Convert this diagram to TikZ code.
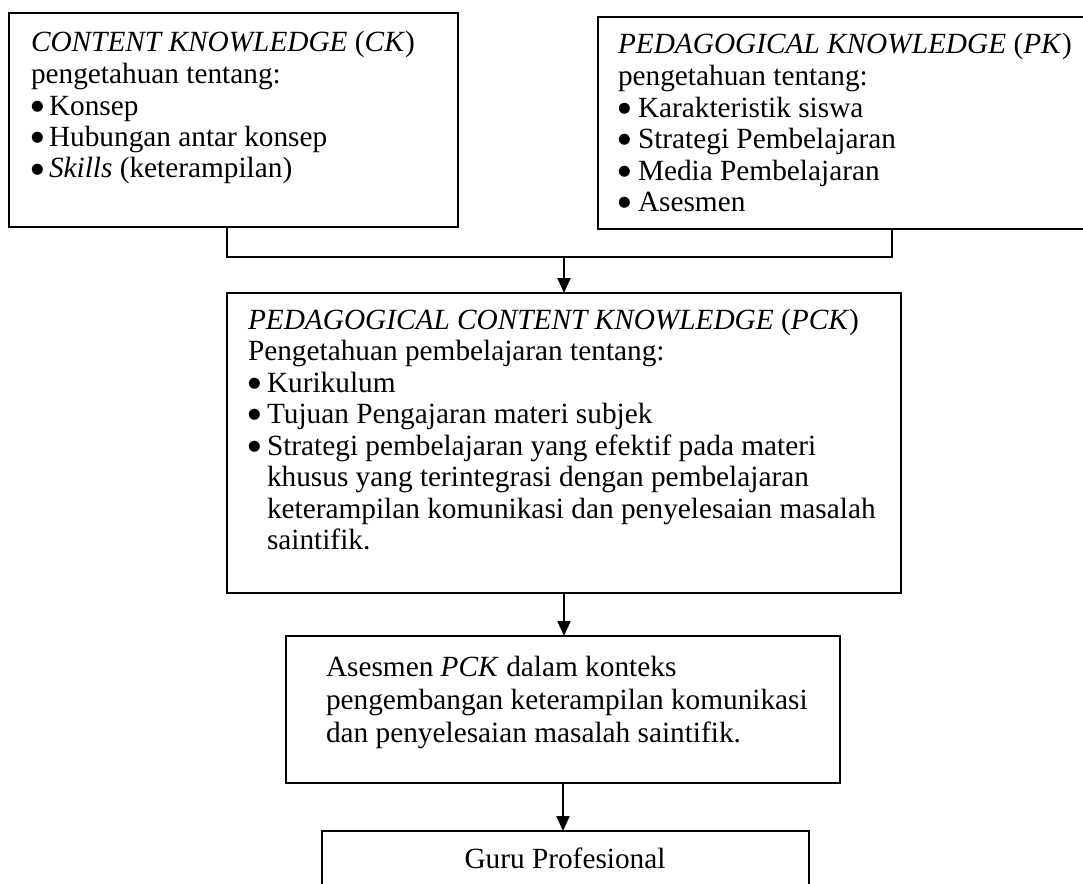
\documentclass[tikz,border=0pt]{standalone}
\usepackage{fontspec}
\setmainfont{Liberation Serif}
\newfontfamily\symf{DejaVu Sans}
\usetikzlibrary{arrows.meta}
\newcommand{\bul}[1]{\makebox[#1][l]{\raisebox{4.6pt}{\symf\fontsize{14.5}{14.5}\selectfont ●}}}
\tikzset{
  boxshape/.style={draw=black, line width=2pt, inner sep=0pt, outer sep=0pt, anchor=north west},
  txt/.style={inner sep=0pt, outer sep=0pt, anchor=base west, font=\fontsize{29.3}{31.5}\selectfont},
  line/.style={draw=black, line width=2pt},
  arr/.style={draw=black, line width=2pt, -{Triangle[length=15pt,width=13pt]}}
}
\begin{document}
\begin{tikzpicture}[x=1pt,y=-1pt]
\useasboundingbox (0,0) rectangle (1083,883);
\clip (0,0) rectangle (1083,883);
% boxes
\node[boxshape, minimum width=449pt, minimum height=214pt] (ck) at (9,13) {};
\node[boxshape, minimum width=520pt, minimum height=212pt] (pk) at (598,17) {};
\node[boxshape, minimum width=674pt, minimum height=300pt] (pck) at (227,293) {};
\node[boxshape, minimum width=554pt, minimum height=147pt] (as) at (286,636) {};
\node[boxshape, minimum width=487pt, minimum height=80pt] (guru) at (322,831) {};
% texts
\node[txt] (ckt) at (31,52) {\parbox[t]{425pt}{\raggedright
\textit{CONTENT KNOWLEDGE} (\textit{CK})\\
pengetahuan tentang:\\
\bul{18pt}Konsep\\
\bul{18pt}Hubungan antar konsep\\
\bul{18pt}\textit{Skills} (keterampilan)}};
\node[txt] (pkt) at (618,54) {\parbox[t]{470pt}{\raggedright
\textit{PEDAGOGICAL KNOWLEDGE} (\textit{PK})\\
pengetahuan tentang:\\
\bul{20pt}Karakteristik siswa\\
\bul{20pt}Strategi Pembelajaran\\
\bul{20pt}Media Pembelajaran\\
\bul{20pt}Asesmen}};
\node[txt] (pckt) at (248,329) {\parbox[t]{700pt}{\raggedright
\textit{PEDAGOGICAL CONTENT KNOWLEDGE} (\textit{PCK})\\
Pengetahuan pembelajaran tentang:\\
\bul{19pt}Kurikulum\\
\bul{19pt}Tujuan Pengajaran materi subjek\\
\bul{19pt}Strategi pembelajaran yang efektif pada materi\\
\hspace*{19pt}khusus yang terintegrasi dengan pembelajaran\\
\hspace*{19pt}keterampilan komunikasi dan penyelesaian masalah\\
\hspace*{19pt}saintifik.}};
\node[txt, font=\fontsize{29.3}{33}\selectfont] (ast) at (326,676) {\parbox[t]{520pt}{\raggedright
Asesmen \textit{PCK} dalam konteks\\
pengembangan keterampilan komunikasi\\
dan penyelesaian masalah saintifik.}};
\node[txt, anchor=base] (gurut) at (565,868) {Guru Profesional};
% connectors
\coordinate (j1) at (227,257);
\coordinate (j2) at (892,257);
\draw[line] (ck.south -| j1) -- (j1) -- (j2) -- (pk.south -| j2);
\draw[arr] (pck.north |- j1) -- (pck.north);
\draw[arr] (pck.south) -- (pck.south |- as.north);
\draw[arr] (as.south) -- (as.south |- guru.north);
\end{tikzpicture}
\end{document}
